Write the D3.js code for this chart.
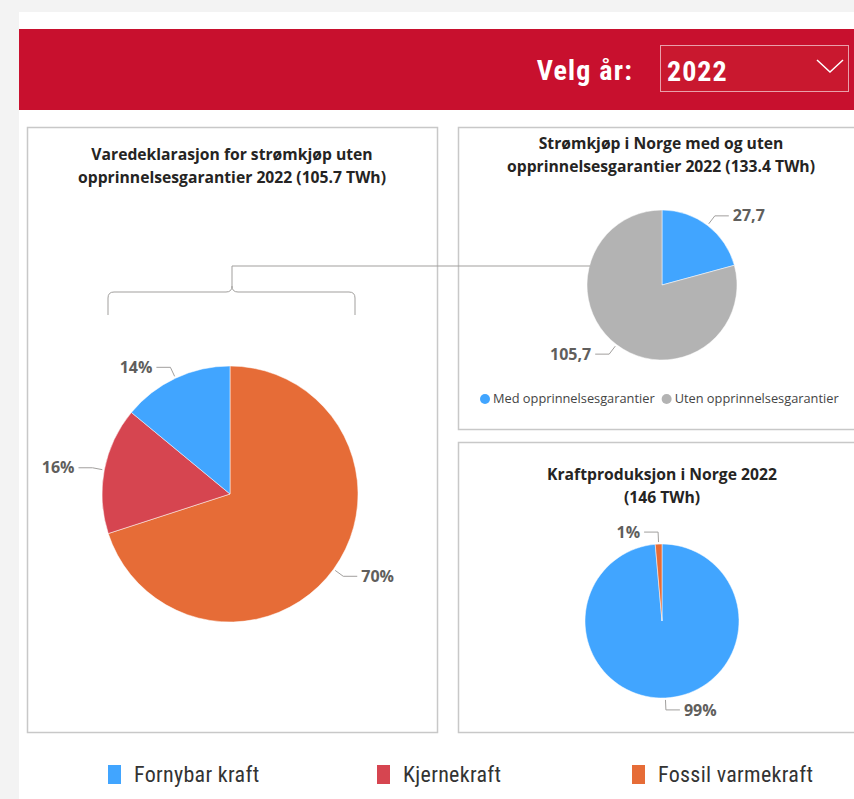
<!DOCTYPE html>
<html lang="no">
<head>
<meta charset="UTF-8">
<title>Varedeklarasjon 2022</title>
<script src="https://cdn.jsdelivr.net/npm/d3@7"></script>
<style>
    body { margin: 0; background: #f3f3f3; }
    svg { display: block; font-family: "Open Sans", "Noto Sans", sans-serif; }
    .title { font-size: 15.7px; font-weight: 700; fill: #252423; text-anchor: middle; }
    .pie-label { font-size: 16px; font-weight: 700; fill: #605e5c; }
    .leader { fill: none; stroke: #a19f9d; stroke-width: 1; }
    .panel { fill: #fff; stroke: #c8c8c8; stroke-width: 1.5; }
    .narrow { font-family: "Liberation Sans Narrow", "Roboto Condensed", "DejaVu Sans Condensed", sans-serif; }
</style>
</head>
<body>
<svg id="chart" width="854" height="799"></svg>
<script>
// energy categories (shared legend)
const energyTypes = ["Fornybar kraft", "Kjernekraft", "Fossil varmekraft"];
const energyColors = ["#41a5ff", "#d64550", "#e66c37"];

// left pie: varedeklarasjon uten opprinnelsesgarantier (share, %)
const declarationTypes = ["Fossil varmekraft", "Kjernekraft", "Fornybar kraft"];
const declarationShares = [70, 16, 14];

// top right pie: strømkjøp med/uten opprinnelsesgarantier (TWh)
const purchaseTypes = ["Med opprinnelsesgarantier", "Uten opprinnelsesgarantier"];
const purchaseValues = [27.7, 105.7];
const purchaseColors = ["#41a5ff", "#b3b3b3"];

// bottom right pie: kraftproduksjon (share, %)
const productionTypes = ["Fornybar kraft", "Fossil varmekraft"];
const productionShares = [98.6, 1.4];

const svg = d3.select("#chart");
const colorOf = d3.scaleOrdinal().domain(energyTypes).range(energyColors);

// page background / header
svg.append("rect").attr("x", 19).attr("y", 12).attr("width", 835).attr("height", 787).attr("fill", "#fff");
svg.append("rect").attr("x", 19).attr("y", 29).attr("width", 835).attr("height", 81).attr("fill", "#c8102e");
svg.append("text").attr("class", "narrow")
    .attr("x", 633).attr("y", 80).attr("text-anchor", "end")
    .attr("font-size", 28).attr("font-weight", 700).attr("fill", "#fff")
    .attr("letter-spacing", 1.2)
    .text("Velg år:");
svg.append("rect").attr("x", 660.5).attr("y", 45.5).attr("width", 188).attr("height", 46)
    .attr("fill", "#c9182f").attr("stroke", "#e9a0ab").attr("stroke-width", 1);
svg.append("text").attr("class", "narrow")
    .attr("x", 667).attr("y", 81)
    .attr("font-size", 28).attr("font-weight", 700).attr("fill", "#fff")
    .attr("letter-spacing", 1)
    .text("2022");
svg.append("path").attr("d", "M817,60 L830,72 L843,60")
    .attr("fill", "none").attr("stroke", "#fff").attr("stroke-width", 1.5);

// panels
svg.append("rect").attr("class", "panel").attr("x", 27.5).attr("y", 127.5).attr("width", 410).attr("height", 605);
svg.append("rect").attr("class", "panel").attr("x", 458.5).attr("y", 127.5).attr("width", 400).attr("height", 302);
svg.append("rect").attr("class", "panel").attr("x", 458.5).attr("y", 442.5).attr("width", 400).attr("height", 290);

function addTitle(x, y, lines) {
    const t = svg.append("text").attr("class", "title").attr("x", x).attr("y", y);
    lines.forEach((l, i) => t.append("tspan").attr("x", x).attr("dy", i ? 23 : 0).text(l));
}
addTitle(232, 160, ["Varedeklarasjon for strømkjøp uten", "opprinnelsesgarantier 2022 (105.7 TWh)"]);
addTitle(661, 149, ["Strømkjøp i Norge med og uten", "opprinnelsesgarantier 2022 (133.4 TWh)"]);
addTitle(662, 480, ["Kraftproduksjon i Norge 2022", "(146 TWh)"]);

// pie with leader labels
function drawPie(cx, cy, r, names, values, colors, fmt) {
    const pie = d3.pie().sort(null).value(d => d)(values);
    const arc = d3.arc().innerRadius(0).outerRadius(r);
    const g = svg.append("g").attr("transform", `translate(${cx},${cy})`);
    g.selectAll("path.slice").data(pie).enter().append("path")
        .attr("class", "slice")
        .attr("d", arc)
        .attr("fill", (d, i) => colors(names[i]))
        .attr("stroke", "#fff").attr("stroke-width", 0.5);
    pie.forEach((d, i) => {
        const a = (d.startAngle + d.endAngle) / 2;
        const p0 = d3.pointRadial(a, r + 2);
        const p1 = d3.pointRadial(a, r + 12);
        const side = Math.sin(a) >= 0 ? 1 : -1;
        const p2 = [p1[0] + side * 14, p1[1]];
        g.append("path").attr("class", "leader").attr("d", d3.line()([p0, p1, p2]));
        g.append("text").attr("class", "pie-label")
            .attr("x", p2[0] + side * 4).attr("y", p2[1])
            .attr("dy", "0.35em")
            .attr("text-anchor", side > 0 ? "start" : "end")
            .text(fmt(values[i]));
    });
}

const pct = v => d3.format(".0f")(v) + "%";
const twh = v => d3.format(".1f")(v).replace(".", ",");

drawPie(230, 494, 128, declarationTypes, declarationShares, colorOf, pct);
drawPie(662, 285, 75, purchaseTypes, purchaseValues,
    d3.scaleOrdinal().domain(purchaseTypes).range(purchaseColors), twh);
drawPie(662, 621, 77, productionTypes, productionShares, colorOf, pct);

// bracket linking left pie to grey slice
const bracket = d3.path();
bracket.moveTo(108, 315); bracket.lineTo(108, 298);
bracket.quadraticCurveTo(108, 292, 114, 292);
bracket.lineTo(226, 292); bracket.quadraticCurveTo(232, 292, 232, 286);
bracket.quadraticCurveTo(232, 292, 238, 292);
bracket.lineTo(349, 292); bracket.quadraticCurveTo(355, 292, 355, 298);
bracket.lineTo(355, 315);
svg.append("path").attr("class", "leader").attr("stroke", "#a0a0a0").attr("d", bracket.toString());
svg.append("path").attr("class", "leader").attr("stroke", "#a0a0a0")
    .attr("d", d3.line()([[232, 286], [232, 266], [590, 266]]));

// legend inside top right panel
const pLeg = svg.append("g").attr("transform", "translate(479,399)");
let lx = 0;
purchaseTypes.forEach((n, i) => {
    pLeg.append("circle").attr("cx", lx + 6).attr("cy", 0).attr("r", 5).attr("fill", purchaseColors[i]);
    const t = pLeg.append("text").attr("x", lx + 14).attr("y", 0).attr("dy", "0.35em")
        .attr("font-size", 12.8).attr("fill", "#444").text(n);
    lx += 14 + t.node().getComputedTextLength() + 6;
});

// bottom legend
const legX = [108, 377, 632];
energyTypes.forEach((n, i) => {
    svg.append("rect").attr("x", legX[i]).attr("y", 765).attr("width", 13).attr("height", 19)
        .attr("fill", energyColors[i]);
    svg.append("text").attr("class", "narrow").attr("x", legX[i] + 26).attr("y", 782)
        .attr("font-size", 22).attr("letter-spacing", 0.3).attr("fill", "#333").text(n);
});
</script>
</body>
</html>
